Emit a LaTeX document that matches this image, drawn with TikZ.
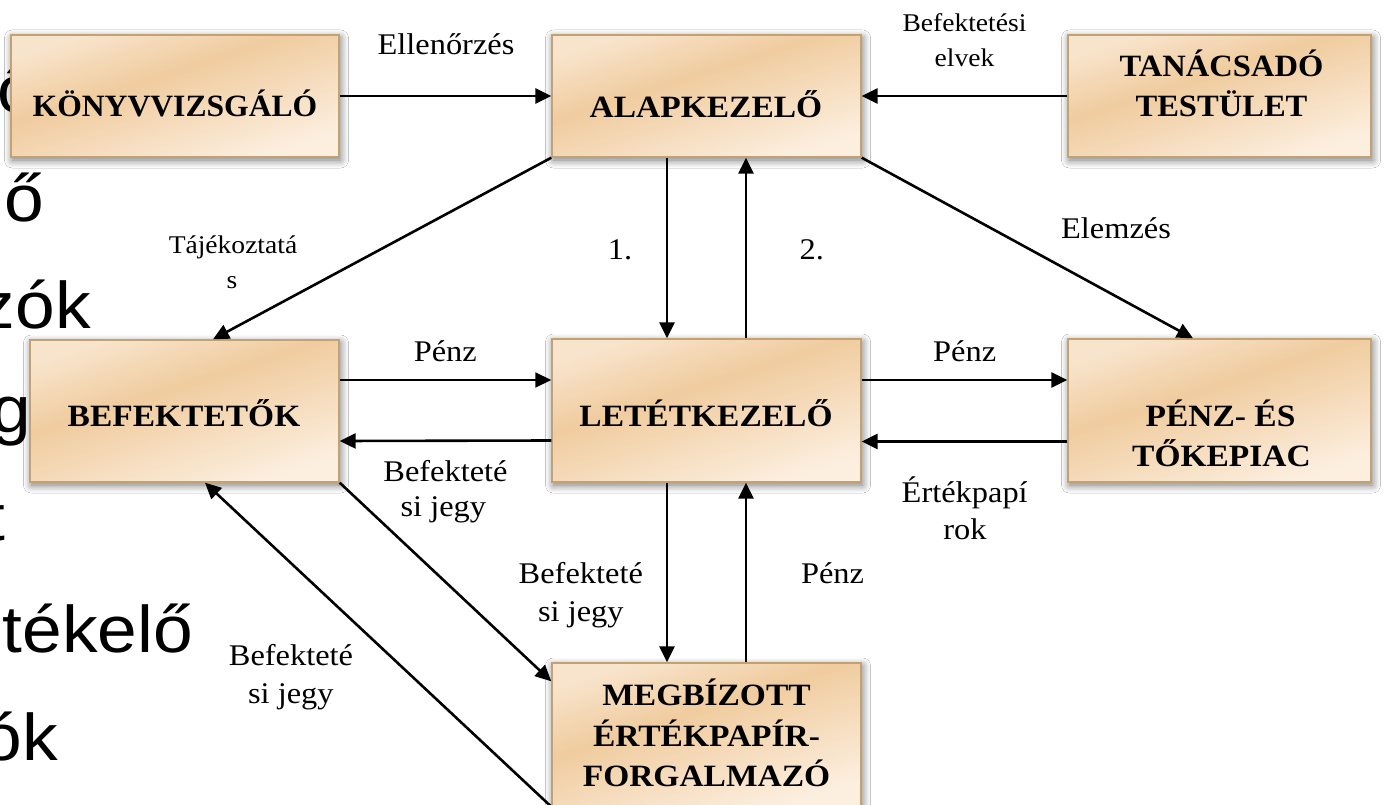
\documentclass[tikz,border=0pt]{standalone}
\usepackage{graphicx}
\usepackage{fontspec}
\setmainfont{Liberation Serif}
\newfontfamily\slidefont{Liberation Sans}
\usetikzlibrary{arrows.meta,shadows.blur}

\definecolor{boxlight}{HTML}{F8E4CC}
\definecolor{boxpeach}{HTML}{F0CC9F}
\definecolor{boxpale}{HTML}{FCEFE0}
\definecolor{boxedge}{HTML}{C2A172}

% soft peach gradient of the boxes (visible range 25bp--75bp)
\pgfdeclareverticalshading{boxshade}{100bp}{color(0bp)=(boxpale); color(25bp)=(boxpale); color(57bp)=(boxpeach); color(75bp)=(boxlight); color(100bp)=(boxlight)}

% slightly widened lettering
\newcommand{\hs}[1]{\scalebox{1.08}[1]{#1}}

\tikzset{
  box/.style={rectangle, draw=boxedge, line width=1.4pt, shade, shading=boxshade,
    shading angle=18, inner sep=0pt,
    blur shadow={shadow xshift=1.5pt, shadow yshift=-3pt, shadow blur radius=8pt,
      shadow blur steps=12, shadow opacity=55}},
  boxtext/.style={anchor=base, inner sep=0pt, font=\fontsize{31}{38}\selectfont\bfseries},
  lbl/.style={anchor=base, inner sep=0pt, font=\fontsize{30}{36}\selectfont},
  smalllbl/.style={anchor=base, inner sep=0pt, font=\fontsize{25.5}{31}\selectfont},
  slide/.style={anchor=base east, inner sep=0pt, font=\slidefont\fontsize{66}{80}\selectfont},
  arr/.style={-{Triangle[length=16pt,width=15pt]}, line width=2.6pt},
}

\begin{document}
\begin{tikzpicture}[x=1pt,y=-1pt]
\useasboundingbox[fill=white] (0,0) rectangle (1384,805);

% bullet words of the slide underneath, cut at the left edge
\node[slide, anchor=base west] (fr1) at (-3,113) {\hs{ő}};
\node[slide] (fr2) at (44.5,222) {\hs{ő}};
\node[slide] (fr3) at (91,328) {\hs{zók}};
\node[slide] (fr4) at (31,432) {\hs{g}};
\node[slide] (fr5) at (6,540) {\hs{t}};
\node[slide] (fr6) at (193,652) {\hs{tékelő}};
\node[slide] (fr7) at (58,760) {\hs{ók}};

% boxes
\node[box, minimum width=328pt, minimum height=122pt] (konyv)  at (175,96) {};
\node[box, minimum width=309pt, minimum height=122pt] (alap)   at (706.5,96) {};
\node[box, minimum width=303pt, minimum height=122pt] (tanacs) at (1219.5,96) {};
\node[box, minimum width=309pt, minimum height=142pt] (befek)  at (184.5,411) {};
\node[box, minimum width=309pt, minimum height=143pt] (letet)  at (706.5,410.5) {};
\node[box, minimum width=303pt, minimum height=143pt] (penz)   at (1219.5,410.5) {};
\node[box, minimum width=309pt, minimum height=143pt] (megb)   at (706.5,734.5) {};

% box titles
\node[boxtext] (konyv-t) at (175,116.3) {\scalebox{1.02}[1]{KÖNYVVIZSGÁLÓ}};
\node[boxtext] (alap-t) at (706,117.3) {\hs{ALAPKEZELŐ}};
\node[boxtext] (tanacs-t1) at (1221.5,76.5) {\scalebox{1.05}[1]{TANÁCSADÓ}};
\node[boxtext] (tanacs-t2) at (1221.5,116.7) {\scalebox{1.05}[1]{TESTÜLET}};
\node[boxtext] (befek-t) at (184,426) {\hs{BEFEKTETŐK}};
\node[boxtext] (letet-t) at (706,426.5) {\hs{LETÉTKEZELŐ}};
\node[boxtext] (penz-t1) at (1220.5,426) {\hs{PÉNZ- ÉS}};
\node[boxtext] (penz-t2) at (1221.5,466.5) {\hs{TŐKEPIAC}};
\node[boxtext] (megb-t1) at (706.5,705.7) {\hs{MEGBÍZOTT}};
\node[boxtext] (megb-t2) at (706.5,746) {\hs{ÉRTÉKPAPÍR-}};
\node[boxtext] (megb-t3) at (706.5,786) {\hs{FORGALMAZÓ}};

% connectors
\draw[arr] (konyv) -- (alap);
\draw[arr] (tanacs) -- (alap);
\draw[arr] (alap.south west) -- ([xshift=28.5pt]befek.north);
\draw[arr] ([xshift=-39.5pt]alap.south) -- ([xshift=-39.5pt]letet.north);
\draw[arr] ([xshift=39.5pt]letet.north) -- ([xshift=39.5pt]alap.south);
\draw[arr] (alap.south east) -- ([xshift=-26.5pt]penz.north);
\draw[arr, line width=1.8pt] ([yshift=31pt]befek.east) -- ([yshift=30.5pt]letet.west);
\draw[arr] ([yshift=-30pt]letet.west) -- ([yshift=-30pt]befek.east);
\draw[arr] ([yshift=30.5pt]letet.east) -- ([yshift=30.5pt]penz.west);
\draw[arr] ([yshift=-31pt]penz.west) -- ([yshift=-31pt]letet.east);
\draw[arr] ([xshift=-39.5pt]letet.south) -- ([xshift=-39.5pt]megb.north);
\draw[arr] ([xshift=39.5pt]megb.north) -- ([xshift=39.5pt]letet.south);
\draw[arr] (befek.south east) -- ([yshift=-19pt]megb.north west);
\draw[arr] (megb.south west) -- ([xshift=20.5pt]befek.south);

% connector labels
\node[lbl] (l-ell) at (446,55) {\hs{Ellenőrzés}};
\node[smalllbl] (l-elv1) at (964.5,31.7) {\hs{Befektetési}};
\node[smalllbl] (l-elv2) at (964.5,66.7) {\hs{elvek}};
\node[smalllbl] (l-taj1) at (233,254) {\hs{Tájékoztatá}};
\node[smalllbl] (l-taj2) at (232,288) {\hs{s}};
\node[lbl] (l-1) at (620,259.3) {\hs{1.}};
\node[lbl] (l-2) at (811.7,259.3) {\hs{2.}};
\node[lbl] (l-elem) at (1116,238.3) {\hs{Elemzés}};
\node[lbl] (l-penz1) at (445.3,361.7) {\hs{Pénz}};
\node[lbl] (l-bj1a) at (445.5,481.7) {\hs{Befekteté}};
\node[lbl] (l-bj1b) at (443.3,516) {\hs{si jegy}};
\node[lbl] (l-penz2) at (964.7,361.7) {\hs{Pénz}};
\node[lbl] (l-ert1) at (964.7,502) {\hs{Értékpapí}};
\node[lbl] (l-ert2) at (965,539) {\hs{rok}};
\node[lbl] (l-bj2a) at (580.8,583.3) {\hs{Befekteté}};
\node[lbl] (l-bj2b) at (580.8,621.7) {\hs{si jegy}};
\node[lbl] (l-penz3) at (832.5,583.3) {\hs{Pénz}};
\node[lbl] (l-bj3a) at (291,665) {\hs{Befekteté}};
\node[lbl] (l-bj3b) at (290.8,703.3) {\hs{si jegy}};
\end{tikzpicture}
\end{document}
